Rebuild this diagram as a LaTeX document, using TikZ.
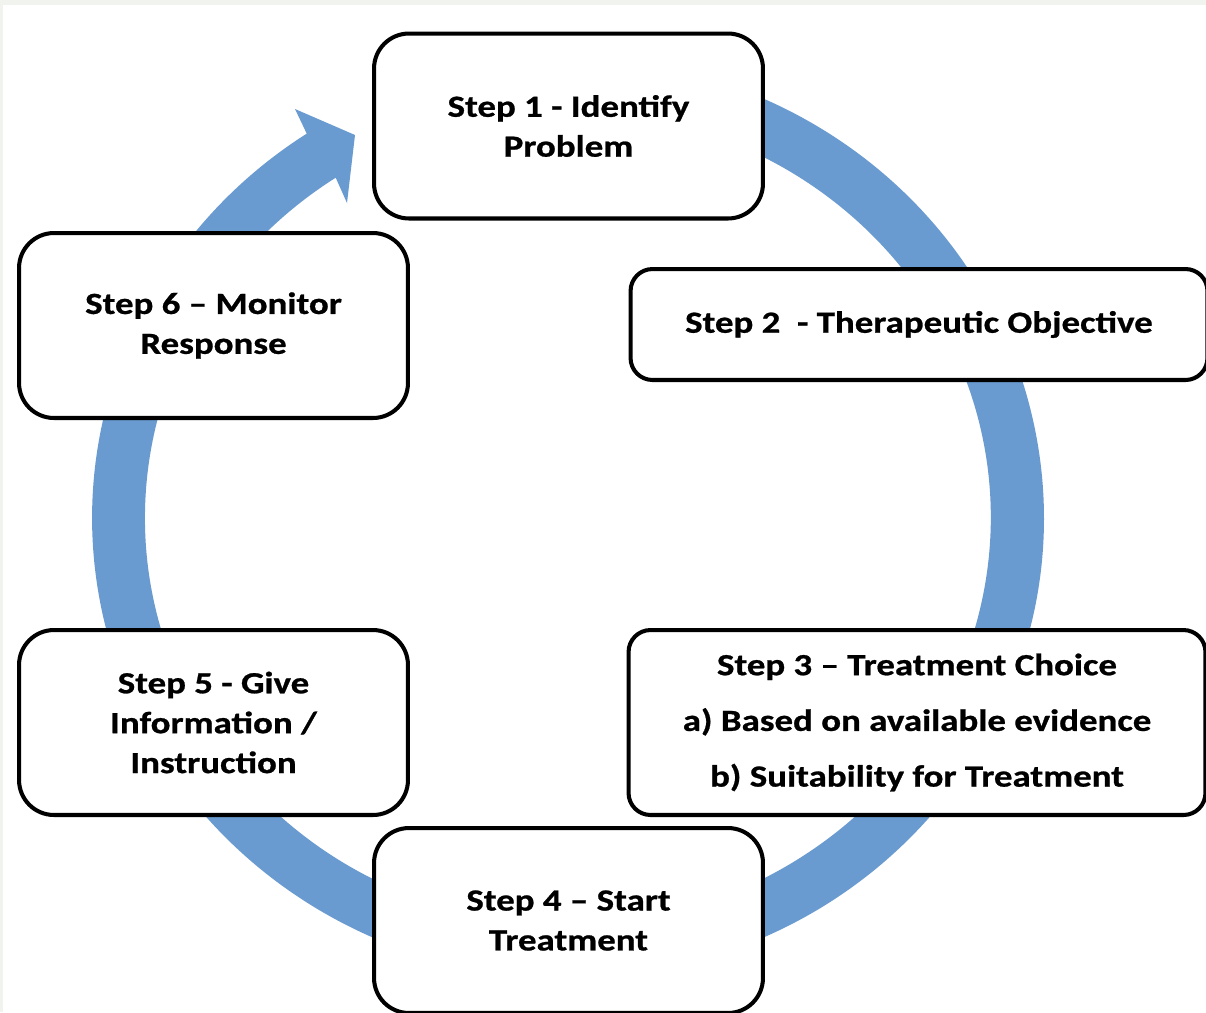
\documentclass[tikz,border=0pt]{standalone}
\usepackage{fontspec}
\setmainfont{Carlito}[FakeStretch=1.2,BoldFeatures={FakeBold=0.8}]
\usetikzlibrary{backgrounds}
\pgfdeclarelayer{edgelayer}
\pgfdeclarelayer{nodelayer}
\pgfsetlayers{edgelayer,nodelayer,main}
\definecolor{ringblue}{RGB}{106,155,208}
\definecolor{bandgrey}{RGB}{241,243,238}
\tikzset{font=\fontsize{17.5}{22.7}\selectfont\bfseries}
\tikzstyle{none}=[inner sep=0pt]
\tikzstyle{stepbox}=[draw=black,fill=white,line width=2.3pt,rounded corners=0.7cm,align=center,inner sep=0pt,minimum width=7.78cm,minimum height=3.7cm]
\tikzstyle{widebox}=[stepbox,rounded corners=0.44cm,minimum width=11.54cm]
\tikzstyle{ring}=[fill=ringblue]

\begin{document}
\begin{tikzpicture}[x=0.02cm,y=0.02cm]
	\useasboundingbox (0,0) rectangle (1206,-1012);
	\begin{pgfonlayer}{nodelayer}
		\node [style=stepbox] (0) at (568.5, -126) {Step 1 - Identify\\Problem};
		\node [style=widebox,minimum height=2.22cm] (1) at (919, -324.5) {Step 2\ \ - Therapeutic Objective};
		\node [style=widebox] (2) at (917, -722.5) {Step 3 – Treatment Choice\\[9pt]a) Based on available evidence\\[9pt]b) Suitability for Treatment};
		\node [style=stepbox] (3) at (568.5, -920.5) {Step 4 – Start\\Treatment};
		\node [style=stepbox] (4) at (213.5, -722.5) {Step 5 - Give\\Information /\\Instruction};
		\node [style=stepbox] (5) at (213.5, -325.5) {Step 6 – Monitor\\Response};
		\coordinate (c) at (568, -518);
	\end{pgfonlayer}
	\begin{pgfonlayer}{edgelayer}
		\fill[bandgrey] (0,0) rectangle (1206,-1012);
		\fill[white] (3,-5) rectangle (1206,-1012);
		% circular arrow, tail hidden under step 1
		\fill[style=ring] (c) ++(100:9.52cm and 9.2cm)
			arc[start angle=100, end angle=-236.7, x radius=9.52cm, y radius=9.2cm]
			-- (295,-109) -- (355,-135) -- (347,-203) -- (335.7,-177.7)
			arc[start angle=-236.7, end angle=100, x radius=8.46cm, y radius=8.14cm]
			-- cycle;
	\end{pgfonlayer}
\end{tikzpicture}
\end{document}
